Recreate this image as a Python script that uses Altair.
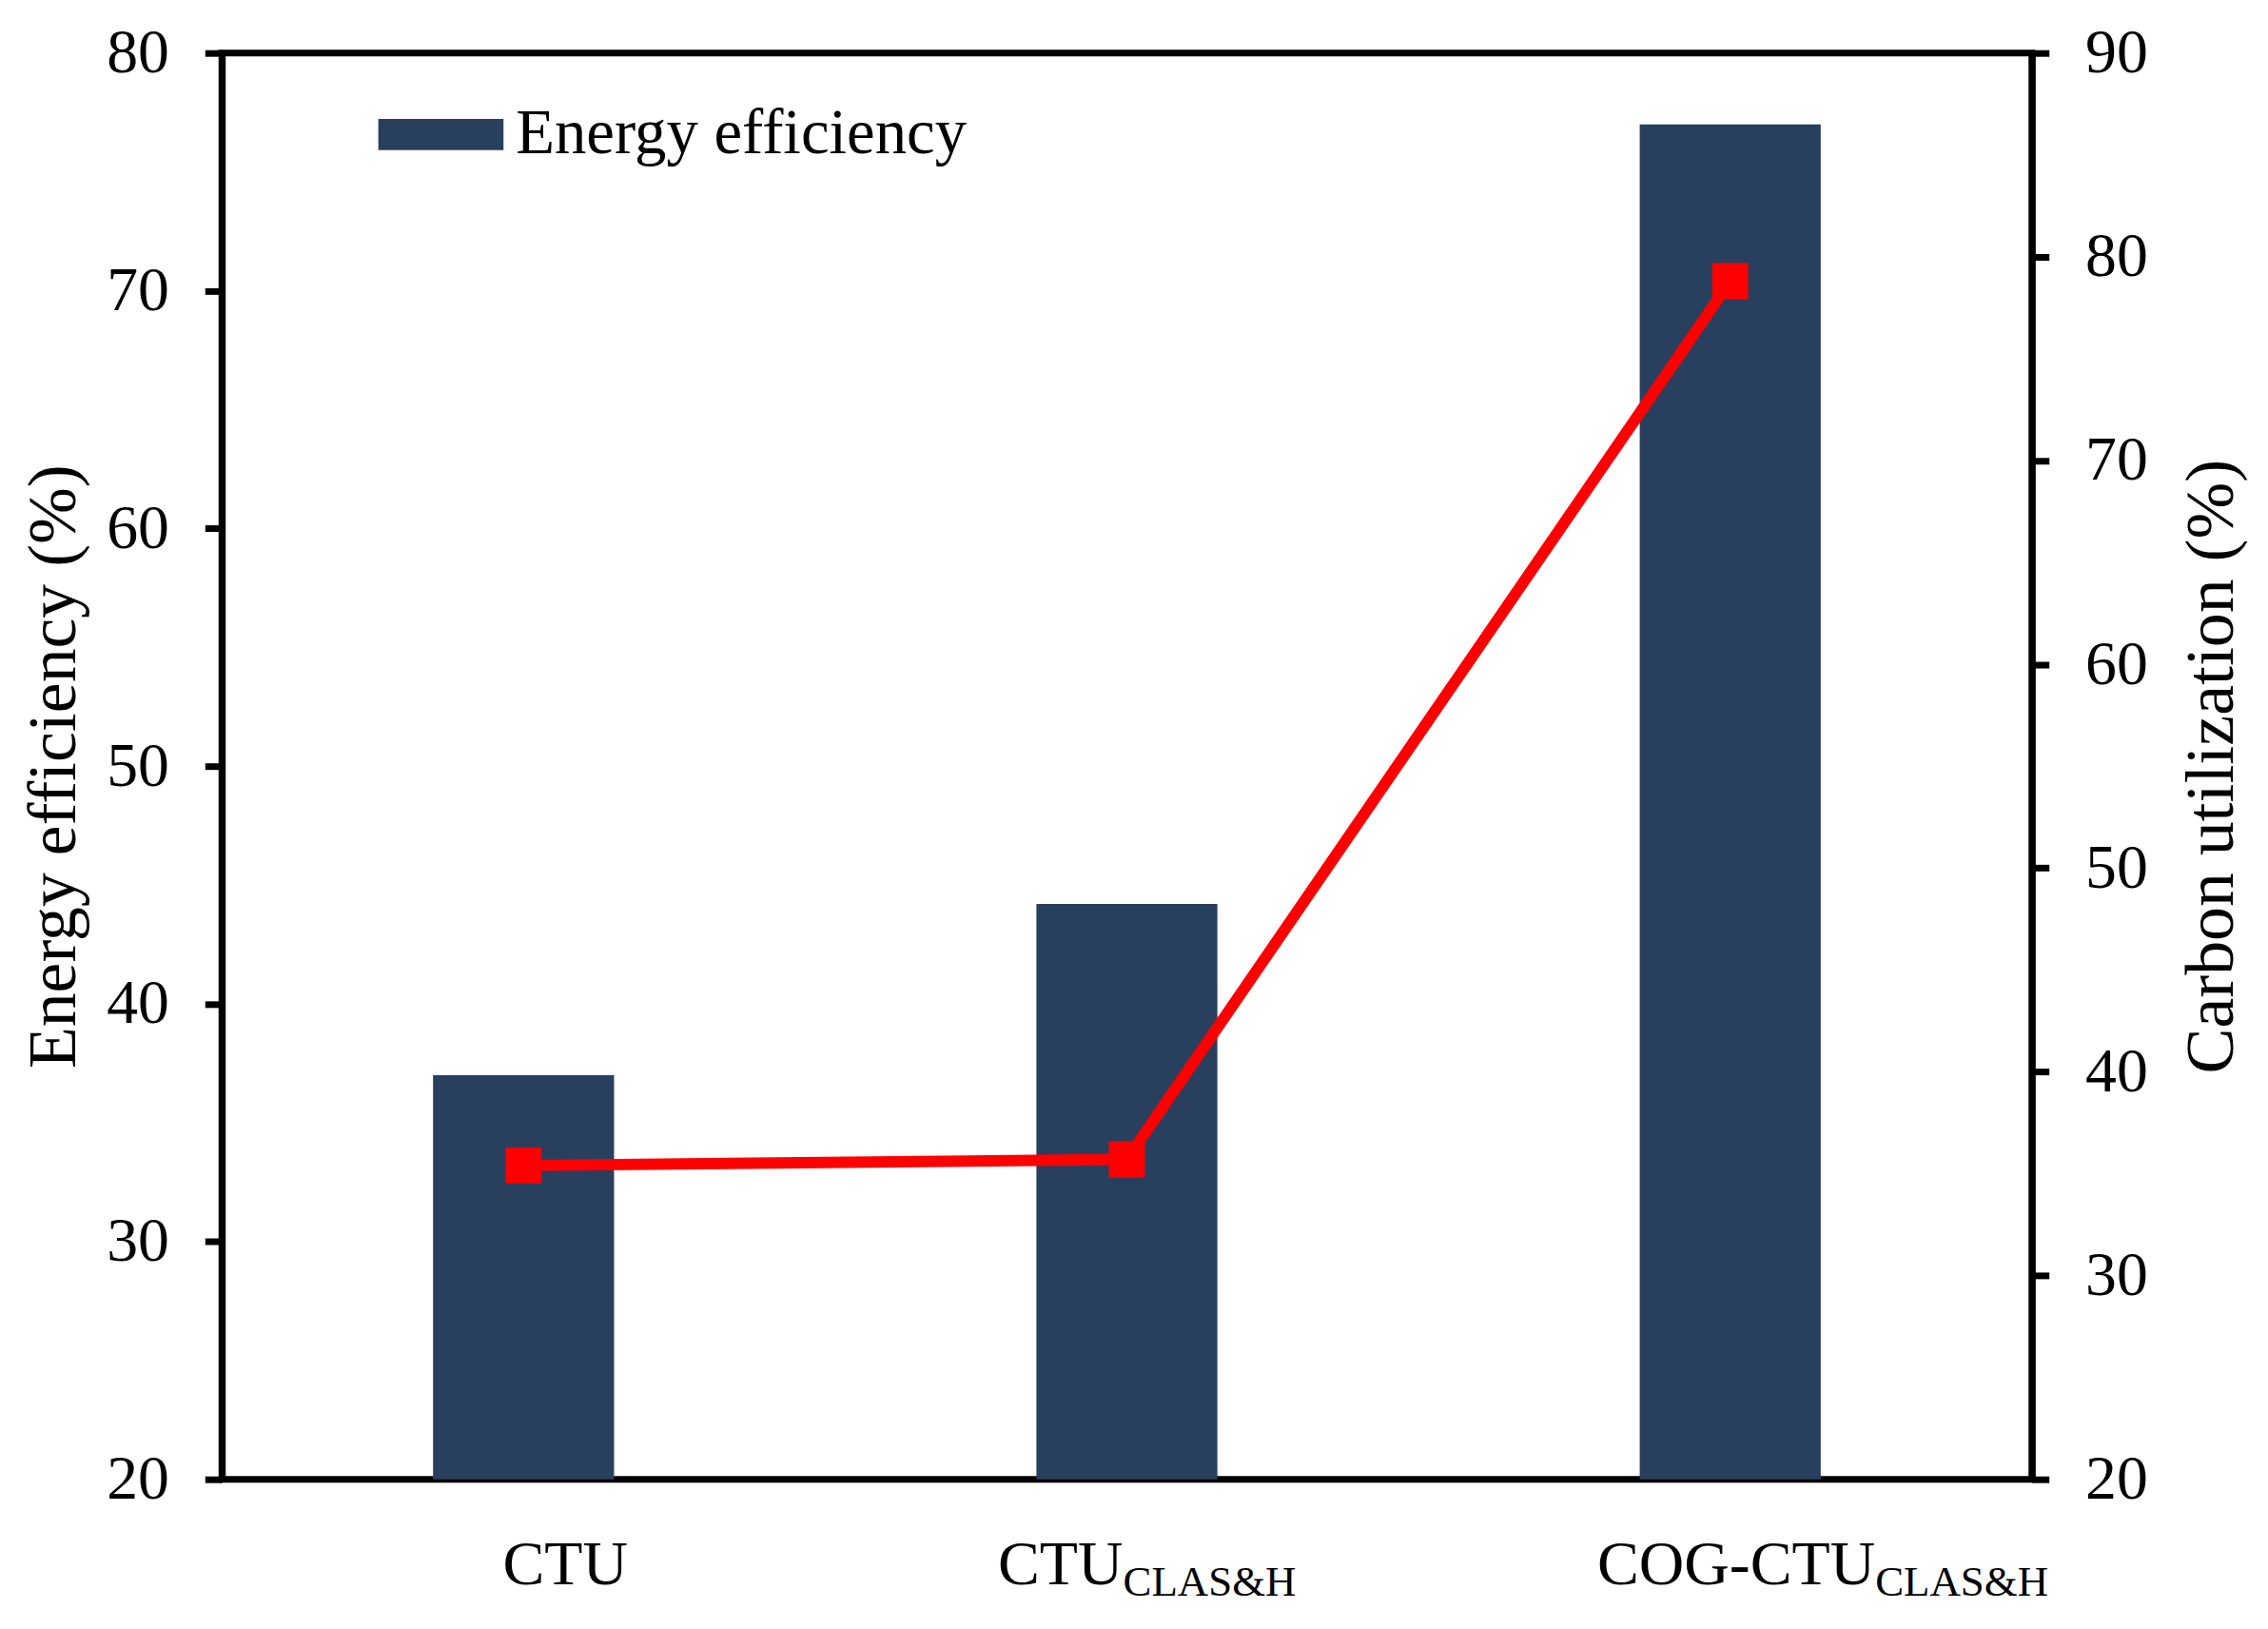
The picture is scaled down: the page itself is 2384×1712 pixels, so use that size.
import altair as alt
import pandas as pd

# ---- data ----
categories = ["CTU", "CTU_CLAS&H", "COG-CTU_CLAS&H"]
label_main = ["CTU", "CTU", "COG-CTU"]
label_sub = ["", "CLAS&H", "CLAS&H"]
energy_efficiency = [37.0, 44.2, 77.0]
carbon_utilization = [35.4, 35.7, 78.8]

df = pd.DataFrame({
    "cat": categories,
    "main": label_main,
    "sub": label_sub,
    "energy": energy_efficiency,
    "carbon": carbon_utilization,
})

FONT = "Liberation Serif"
BAR_COLOR = "#283F5E"
RED = "#FF0000"
W, H = 1909, 1504

xscale = alt.Scale(domain=categories, paddingInner=0.7, paddingOuter=0.35)

base = alt.Chart(df)

bars = base.transform_calculate(series="'Energy efficiency'").mark_bar(color=BAR_COLOR).encode(
    x=alt.X("cat:N", sort=categories, scale=xscale,
            axis=alt.Axis(labels=False, ticks=False, title=None, domain=True)),
    y=alt.Y("energy:Q", scale=alt.Scale(domain=[20, 80], zero=False, nice=False),
            axis=alt.Axis(values=[20, 30, 40, 50, 60, 70, 80], title="Energy efficiency (%)",
                          orient="left", titlePadding=18)),
    y2=alt.datum(20),
    color=alt.Color("series:N", scale=alt.Scale(range=[BAR_COLOR]),
                    legend=alt.Legend(title=None, orient="none", legendX=165, legendY=20,
                                      symbolType="M-1,-0.25L1,-0.25L1,0.25L-1,0.25Z",
                                      symbolSize=17424, symbolStrokeWidth=0,
                                      labelFont=FONT, labelFontSize=67, labelColor="black",
                                      labelOffset=13, labelLimit=0, padding=0)),
)

yright = alt.Y("carbon:Q", scale=alt.Scale(domain=[20, 90], zero=False, nice=False),
               axis=alt.Axis(values=[20, 30, 40, 50, 60, 70, 80, 90], title="Carbon utilization (%)",
                             orient="right", titleAngle=270, titlePadding=104))

right_layer = alt.layer(
    base.mark_line(color=RED, strokeWidth=12),
    base.mark_point(shape="square", filled=True, size=1444, color=RED, opacity=1),
).encode(
    x=alt.X("cat:N", sort=categories, scale=xscale, axis=None),
    y=yright,
)

# category labels with subscripts
label_layers = []
label_dx = {"CTU": 44, "CTU_CLAS&H": -4, "COG-CTU_CLAS&H": 153}
for c in categories:
    sub_text = df.loc[df.cat == c, "sub"].iloc[0]
    main_align = "right" if sub_text else "center"
    m = base.transform_filter(alt.datum.cat == c).mark_text(
        font=FONT, fontSize=66, color="black", align=main_align, baseline="alphabetic",
        dx=label_dx[c]).encode(
        x=alt.X("cat:N", sort=categories, scale=xscale, axis=None),
        y=alt.value(H + 111),
        text="main:N",
    )
    label_layers.append(m)
    if sub_text:
        s = base.transform_filter(alt.datum.cat == c).mark_text(
            font=FONT, fontSize=45, color="black", align="left", baseline="alphabetic",
            dx=label_dx[c]).encode(
            x=alt.X("cat:N", sort=categories, scale=xscale, axis=None),
            y=alt.value(H + 123),
            text="sub:N",
        )
        label_layers.append(s)

chart = alt.layer(bars, right_layer, *label_layers).resolve_scale(
    y="independent"
).properties(
    width=W, height=H,
    background="white",
    autosize=alt.AutoSizeParams(type="none"),
    padding={"left": 226, "top": 45, "right": 241, "bottom": 155},
).configure_view(
    stroke="black", strokeWidth=7
).configure_axis(
    labelFont=FONT, labelFontSize=66, labelColor="black",
    titleFont=FONT, titleFontSize=72, titleFontWeight="normal", titleColor="black",
    domainColor="black", domainWidth=7, tickColor="black", tickWidth=7, tickSize=18,
    labelPadding=38, grid=False,
)

chart.save("out.html", embed_options={"renderer": "svg", "actions": False})
